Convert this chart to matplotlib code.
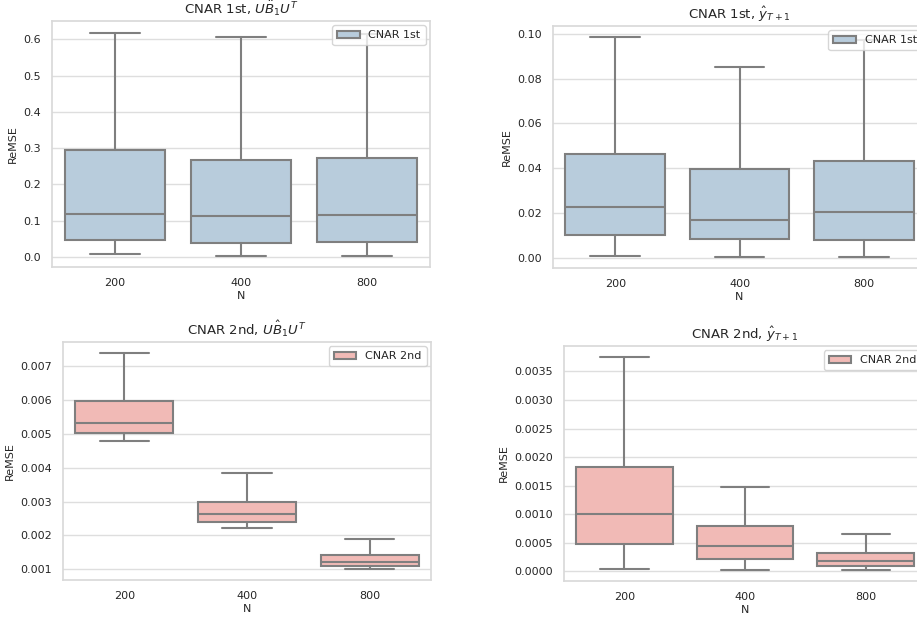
import seaborn as sns
from matplotlib import pyplot as plt

sns.set_theme(style="whitegrid")
plt.rcParams['font.family'] = ['DejaVu Sans']
plt.rcParams['grid.color'] = '#dedede'
plt.rcParams['axes.edgecolor'] = '#d9d9d9'

N_labels = ["200", "400", "800"]

# CNAR 1st, U B U^T
first_B_whislo = [0.0074, 0.0030, 0.0020]
first_B_q1 = [0.0460, 0.0386, 0.0400]
first_B_med = [0.1186, 0.1120, 0.1150]
first_B_q3 = [0.2940, 0.2665, 0.2730]
first_B_whishi = [0.6190, 0.6080, 0.6150]

# CNAR 1st, y_T+1
first_y_whislo = [0.0010, 0.0006, 0.0006]
first_y_q1 = [0.0105, 0.0084, 0.0079]
first_y_med = [0.0228, 0.0172, 0.0207]
first_y_q3 = [0.0462, 0.0399, 0.0433]
first_y_whishi = [0.0985, 0.0852, 0.0970]

# CNAR 2nd, U B U^T
second_B_whislo = [0.004806, 0.002220, 0.001010]
second_B_q1 = [0.005033, 0.002407, 0.001089]
second_B_med = [0.005328, 0.002633, 0.001207]
second_B_q3 = [0.005987, 0.002987, 0.001413]
second_B_whishi = [0.007393, 0.003843, 0.001895]

# CNAR 2nd, y_T+1
second_y_whislo = [0.000040, 0.000023, 0.000018]
second_y_q1 = [0.000485, 0.000216, 0.000100]
second_y_med = [0.001011, 0.000450, 0.000187]
second_y_q3 = [0.001829, 0.000795, 0.000316]
second_y_whishi = [0.003757, 0.001478, 0.000649]

blue = "#b8ccdc"
pink = "#f1bab6"
edge = "#7f7f7f"


def make_stats(lo, q1, med, q3, hi):
    return [dict(whislo=lo[i], q1=q1[i], med=med[i], q3=q3[i], whishi=hi[i], fliers=[])
            for i in range(len(med))]


def draw_panel(ax, stats, color, label, title, ylim):
    ax.bxp(stats, positions=range(len(stats)), widths=0.8, showfliers=False, patch_artist=True,
           boxprops=dict(facecolor=color, edgecolor=edge, linewidth=1.5),
           whiskerprops=dict(color=edge, linewidth=1.5),
           capprops=dict(color=edge, linewidth=1.5),
           medianprops=dict(color=edge, linewidth=1.5))
    ax.set_xticks(range(len(N_labels)))
    ax.set_xticklabels(N_labels)
    ax.set_xlim(-0.5, len(N_labels) - 0.5)
    ax.set_ylim(ylim)
    ax.xaxis.grid(False)
    ax.set_title(title, fontsize=9.5, pad=5)
    ax.set_xlabel("N", fontsize=8, labelpad=2)
    ax.set_ylabel("ReMSE", fontsize=8, labelpad=4)
    ax.tick_params(axis='both', labelsize=8, pad=2)
    h = plt.Rectangle((0, 0), 1, 1, facecolor=color, edgecolor=edge, linewidth=1.5)
    ax.legend([h], [label], loc="upper right", fontsize=8, handlelength=2.0,
              borderpad=0.45, borderaxespad=0.4)


fig = plt.figure(figsize=(9.17, 6.17), dpi=100)

ax1 = fig.add_axes([0.0567, 0.5673, 0.4122, 0.3987])
ax2 = fig.add_axes([0.6031, 0.5656, 0.4068, 0.3922])
ax3 = fig.add_axes([0.0687, 0.0600, 0.4013, 0.3857])
ax4 = fig.add_axes([0.6151, 0.0583, 0.3948, 0.3809])

draw_panel(ax1, make_stats(first_B_whislo, first_B_q1, first_B_med, first_B_q3, first_B_whishi),
           blue, "CNAR 1st", r"CNAR 1st, $U\ddot{B}_1U^T$", (-0.0276, 0.651))
draw_panel(ax2, make_stats(first_y_whislo, first_y_q1, first_y_med, first_y_q3, first_y_whishi),
           blue, "CNAR 1st", r"CNAR 1st, $\hat{y}_{T+1}$", (-0.0044, 0.1034))
draw_panel(ax3, make_stats(second_B_whislo, second_B_q1, second_B_med, second_B_q3, second_B_whishi),
           pink, "CNAR 2nd", r"CNAR 2nd, $U\hat{B}_1U^T$", (0.000685, 0.00772))
draw_panel(ax4, make_stats(second_y_whislo, second_y_q1, second_y_med, second_y_q3, second_y_whishi),
           pink, "CNAR 2nd", r"CNAR 2nd, $\hat{y}_{T+1}$", (-0.000169, 0.003944))

fig.savefig("out.png", dpi=100)
